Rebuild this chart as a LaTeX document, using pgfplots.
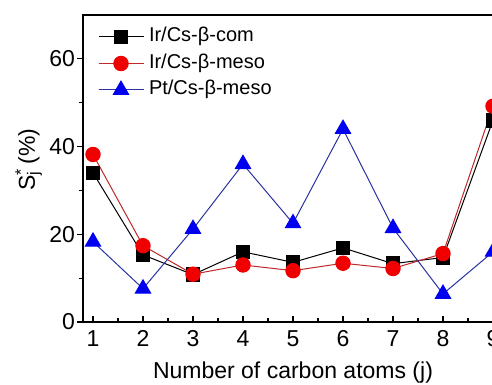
\documentclass[border=0pt]{standalone}
\usepackage{pgfplots}
\pgfplotsset{compat=1.18}
\usepackage{fontspec}
\setmainfont{Liberation Sans}
\definecolor{mkred}{RGB}{240,0,0}
\definecolor{lnred}{RGB}{190,40,40}
\definecolor{mkblue}{RGB}{0,0,240}
\definecolor{lnblue}{RGB}{40,50,160}
\begin{document}
\begin{tikzpicture}
\begin{axis}[
  scale only axis, width=210pt, height=153.5pt,
  xmin=0.8, xmax=9.2, ymin=0, ymax=70,
  xtick={1,...,9}, ytick={0,20,40,60},
  minor x tick num=1, minor y tick num=1,
  tick pos=left,
  xtick align=inside, ytick align=outside,
  major tick length=3pt, minor tick length=1.8pt,
  axis line style={line width=0.75pt},
  every tick/.style={line width=0.6pt, black},
  /pgf/number format/assume math mode=true,
  ticklabel style={font=\fontsize{11.5}{13}\selectfont},
  xticklabel style={yshift=-0.7pt},
  yticklabel style={xshift=2.5pt},
  xlabel={Number of carbon atoms (j)},
  every axis x label/.style={at={(axis description cs:0.5,0)}, anchor=base, yshift=-28pt, font=\fontsize{11.5}{13}\selectfont},
  ylabel={S\rlap{\textsuperscript{*}}\textsubscript{j} (\%)},
  every axis y label/.style={at={(axis description cs:0,0.528)}, xshift=-24pt, rotate=90, anchor=base, font=\fontsize{11.5}{13}\selectfont},
  legend style={at={(rel axis cs:0,1)}, anchor=north west, xshift=7.5pt, yshift=-6pt,
    draw=none, fill=none, inner sep=0pt, outer sep=0pt, font=\fontsize{10}{12}\selectfont,
    nodes={inner sep=0pt, text height=7.5pt, text depth=2.5pt},
    row sep=3.25pt, column sep=0pt},
  legend cell align=left,
  /tikz/every odd column/.append style={column sep=2.5pt},
  legend image code/.code={%
    \draw[#1] (0pt,0pt) -- (22.5pt,0pt);
    \draw[#1, only marks] plot coordinates {(11.25pt,0pt)};},
]
\coordinate (SW) at (rel axis cs:0,0);
\addplot[black, line width=0.5pt, mark=square*, mark size=3.4pt, mark options={fill=black, draw=black}]
  coordinates {(1,34) (2,15.3) (3,10.8) (4,16) (5,13.6) (6,16.9) (7,13.3) (8,14.7) (9,46)};
\addlegendentry{Ir/Cs-β-com}
\addplot[lnred, line width=0.5pt, mark=*, mark size=3.6pt, mark options={fill=mkred, draw=mkred}]
  coordinates {(1,38.2) (2,17.4) (3,10.9) (4,13) (5,11.7) (6,13.4) (7,12.2) (8,15.6) (9,49.2)};
\addlegendentry{Ir/Cs-β-meso}
\addplot[lnblue, line width=0.5pt, mark=triangle*, mark size=4.4pt, mark options={fill=mkblue, draw=mkblue}]
  coordinates {(1,18.3) (2,7.6) (3,21.2) (4,36) (5,22.5) (6,44) (7,21.4) (8,6.4) (9,16)};
\addlegendentry{Pt/Cs-β-meso}
\end{axis}
\pgfresetboundingbox
\path[use as bounding box] ([xshift=-41.5pt,yshift=-31.5pt]SW) rectangle ([xshift=204.5pt,yshift=161pt]SW);
\end{tikzpicture}
\end{document}
